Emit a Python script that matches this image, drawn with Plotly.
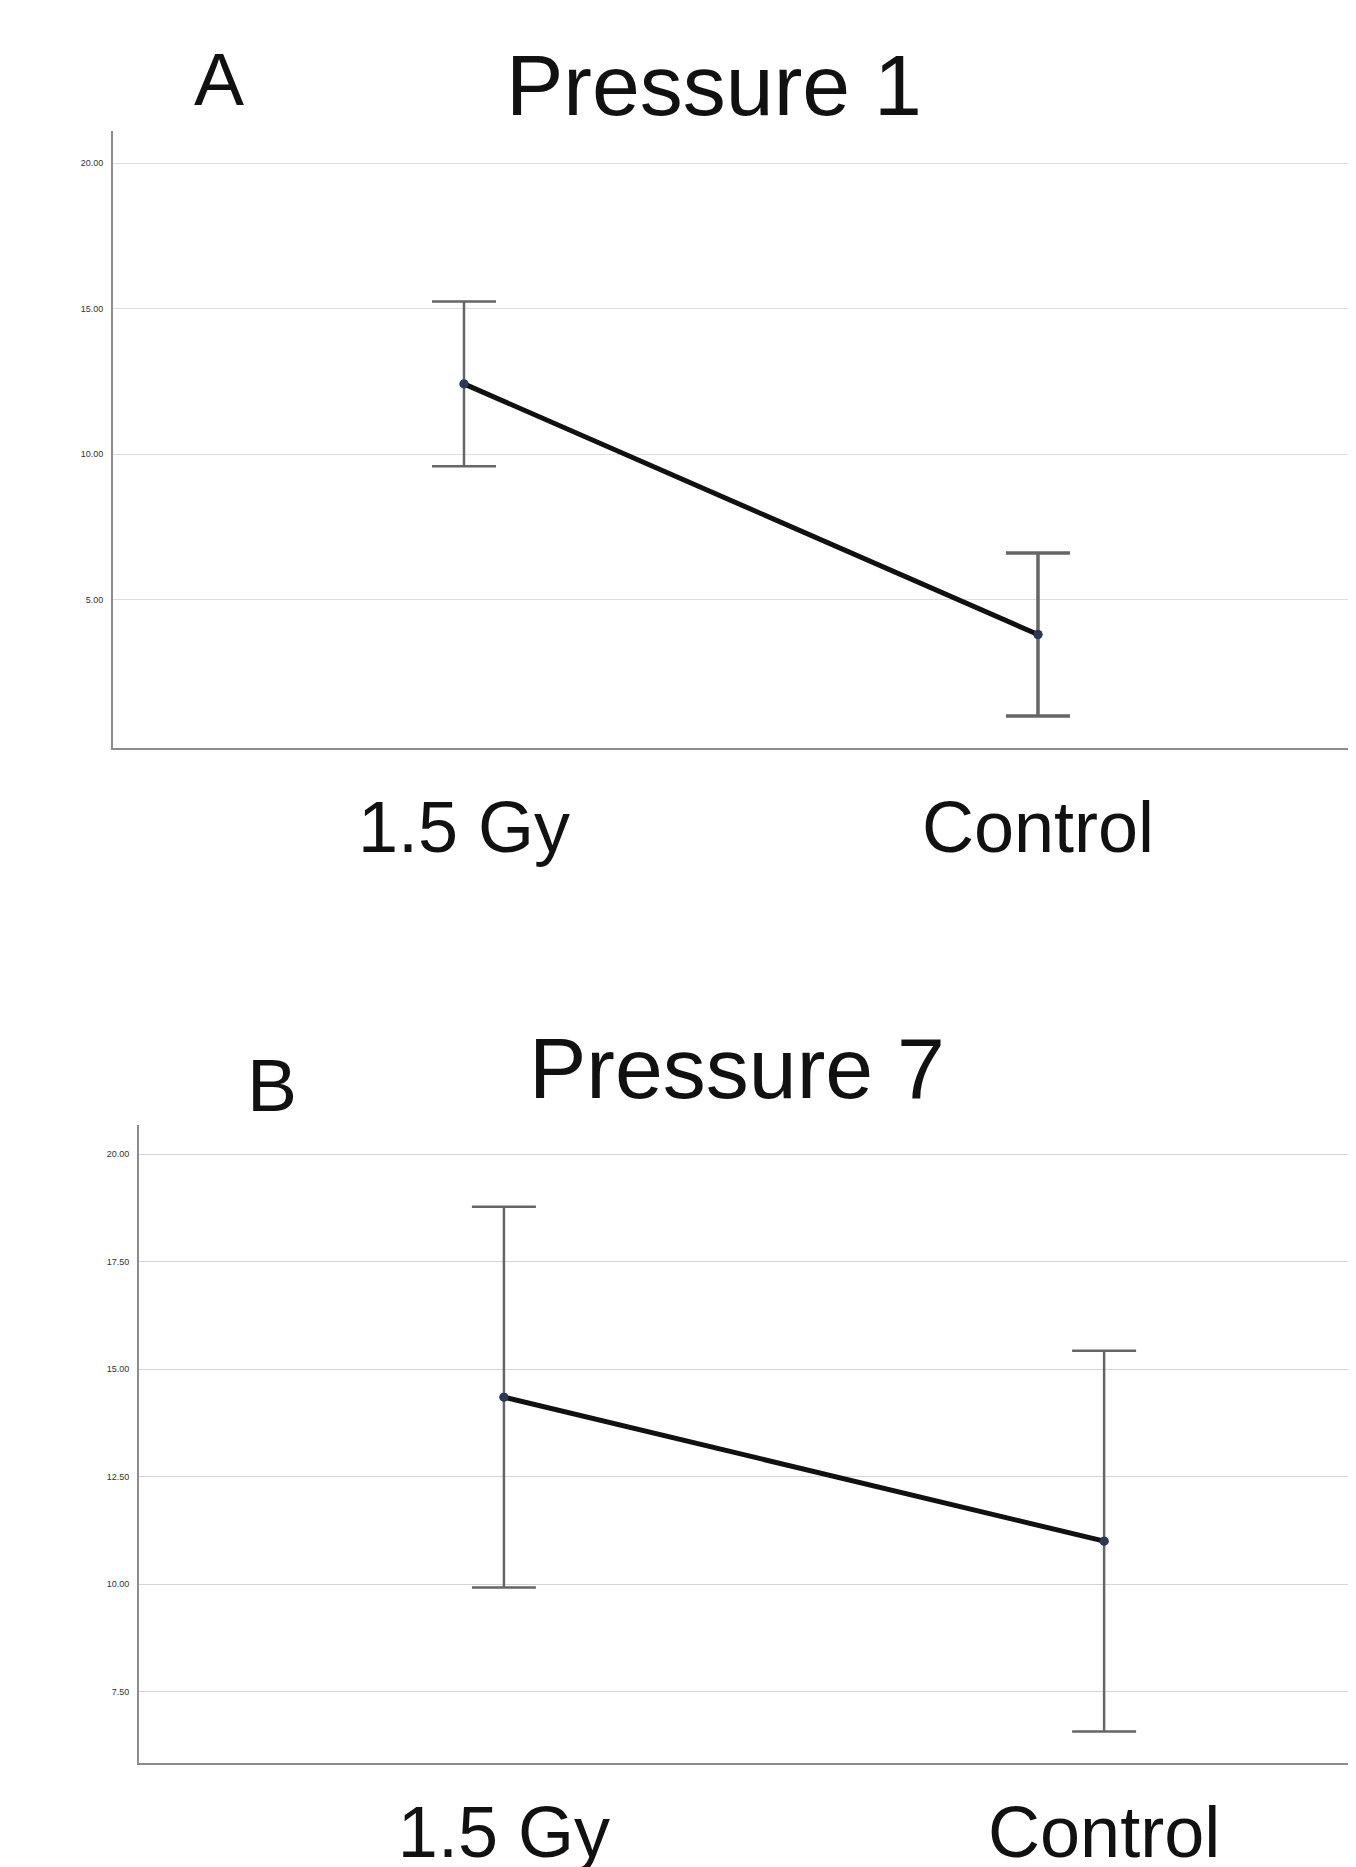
import plotly.graph_objects as go

# ---------------- data ----------------
groups = ["1.5 Gy", "Control"]
p1_mean = [12.41, 3.80]
p1_err = [2.83, 2.80]
p7_mean = [14.35, 11.00]
p7_err = [4.43, 4.43]
p1_ticks = [5, 10, 15, 20]
p7_ticks = [7.5, 10, 12.5, 15, 17.5, 20]
panel_letters = ["A", "B"]
panel_titles = ["Pressure 1", "Pressure 7"]

W, H = 1356, 1867
OFF = 8  # page body margin
FONT = "Liberation Sans, Arial, Helvetica, sans-serif"

fig = go.Figure()
xpos = list(range(len(groups)))


def add_panel(means, errs, xa, ya, err_widths):
    for i, (m, e) in enumerate(zip(means, errs)):
        fig.add_trace(go.Scatter(
            x=[xpos[i]], y=[m], mode="markers", xaxis=xa, yaxis=ya,
            marker=dict(color="#2c3856", size=9),
            error_y=dict(type="data", array=[e], visible=True,
                         color="#666666", thickness=err_widths[i], width=32),
            showlegend=False))
    fig.add_trace(go.Scatter(
        x=xpos, y=means, mode="lines+markers", xaxis=xa, yaxis=ya,
        line=dict(color="#111111", width=5),
        marker=dict(color="#2c3856", size=9),
        showlegend=False, hoverinfo="skip"))


add_panel(p1_mean, p1_err, "x", "y", [2.5, 3.5])
add_panel(p7_mean, p7_err, "x2", "y2", [2.5, 2.5])


def ydom(top_px, bot_px):
    return [1 - (bot_px - OFF) / H, 1 - (top_px - OFF) / H]


def xleft(px):
    return (px - OFF) / W


axis_common = dict(showline=True, linecolor="#8c8c8c", linewidth=2,
                   zeroline=False, ticks="", automargin=False)

fig.update_layout(
    template="none",
    width=W, height=H,
    margin=dict(l=0, r=0, t=0, b=0, pad=0),
    paper_bgcolor="white", plot_bgcolor="white",
    font=dict(family=FONT, color="#111111"),
    xaxis=dict(domain=[xleft(113), 1], range=[-0.6115, 1.568],
               tickvals=xpos, ticktext=groups, showgrid=False,
               tickfont=dict(size=72, family=FONT, color="#111111"),
               ticklabelstandoff=16, anchor="y", **axis_common),
    yaxis=dict(domain=ydom(131, 748), range=[-0.1, 21.1],
               tickvals=p1_ticks, tickformat=".2f", showgrid=True,
               gridcolor="#dcdcdc", gridwidth=1,
               tickfont=dict(size=9, color="#333333"),
               ticklabelstandoff=6, anchor="x", **axis_common),
    xaxis2=dict(domain=[xleft(139), 1], range=[-0.608, 1.433],
                tickvals=xpos, ticktext=groups, showgrid=False,
                tickfont=dict(size=72, family=FONT, color="#111111"),
                ticklabelstandoff=6, anchor="y2", **axis_common),
    yaxis2=dict(domain=ydom(1125, 1763), range=[5.84, 20.68],
                tickvals=p7_ticks, tickformat=".2f", showgrid=True,
                gridcolor="#d4d4d4", gridwidth=1,
                tickfont=dict(size=9, color="#333333"),
                ticklabelstandoff=6, anchor="x2", **axis_common),
)

# panel letters and titles (figure pixel positions)
letter_pos = [(211, 71), (264, 1077)]
title_pos = [(706, 77), (729, 1060)]
for k in range(2):
    lx, ly = letter_pos[k]
    tx, ty = title_pos[k]
    fig.add_annotation(text=panel_letters[k], x=lx / W, y=1 - ly / H,
                       xref="paper", yref="paper", showarrow=False,
                       xanchor="center", yanchor="middle",
                       font=dict(size=75, family=FONT, color="#111111"))
    fig.add_annotation(text=panel_titles[k], x=tx / W, y=1 - ty / H,
                       xref="paper", yref="paper", showarrow=False,
                       xanchor="center", yanchor="middle",
                       font=dict(size=86, family=FONT, color="#111111"))

fig.write_html("out.html")
